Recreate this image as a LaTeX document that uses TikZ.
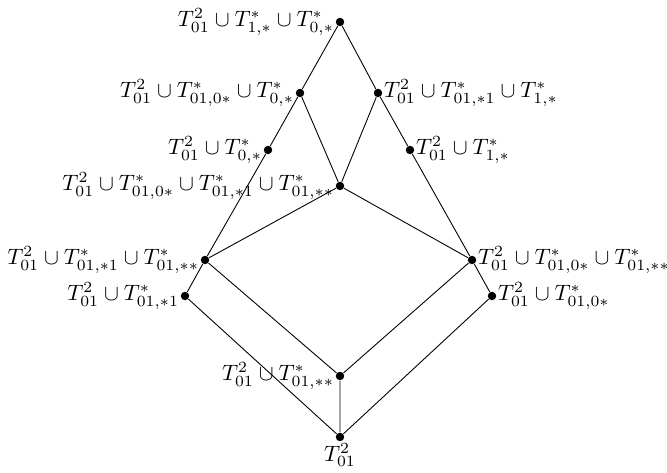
\documentclass[tikz,border=0pt]{standalone}
\usepackage{amsmath}
\usepackage{tikz}
\usetikzlibrary{positioning}

\begin{document}
\begin{tikzpicture}[scale=0.79,
    pt/.style={circle, fill=black, inner sep=0pt, minimum size=3.8pt},
    every label/.style={inner sep=0.4pt}]
            \useasboundingbox (0,0) rectangle (13.34,9.46);
            % vertices of the lattice
            \node[pt, label=left:{$T_{01}^2\cup T_{1,*}^*\cup T_{0,*}^*$}] (top) at (6.8,9.02) {};
            \node[pt, label=left:{$T_{01}^2\cup T_{01,0*}^*\cup T_{0,*}^*$}] (a) at (6.0,7.6) {};
            \node[pt, label=right:{$T_{01}^2\cup T_{01,*1}^*\cup T_{1,*}^*$}] (b) at (7.56,7.6) {};
            \node[pt, label=left:{$T_{01}^2\cup T_{0,*}^*$}] (c) at (5.36,6.46) {};
            \node[pt, label=right:{$T_{01}^2\cup T_{1,*}^*$}] (d) at (8.2,6.46) {};
            \node[pt, label=left:{$T_{01}^2\cup T_{01,0*}^*\cup T_{01,*1}^*\cup T_{01,**}^*$}] (m) at (6.8,5.74) {};
            \node[pt, label=left:{$T_{01}^2\cup T_{01,*1}^*\cup T_{01,**}^*$}] (l) at (4.1,4.26) {};
            \node[pt, label=right:{$T_{01}^2\cup T_{01,0*}^*\cup T_{01,**}^*$}] (r) at (9.44,4.26) {};
            \node[pt, label=left:{$T_{01}^2\cup T_{01,*1}^*$}] (ll) at (3.7,3.54) {};
            \node[pt, label=right:{$T_{01}^2\cup T_{01,0*}^*$}] (rr) at (9.84,3.54) {};
            \node[pt, label=left:{$T_{01}^2\cup T_{01,**}^*$}] (s) at (6.8,1.94) {};
            \node[pt, label=below:{$T_{01}^2$}] (bot) at (6.8,0.72) {};
            % edges
            \draw (top) -- (a) -- (c) -- (l) -- (ll) -- (bot);
            \draw (top) -- (b) -- (d) -- (r) -- (rr) -- (bot);
            \draw (a) -- (m) -- (b);
            \draw (l) -- (m) -- (r);
            \draw (l) -- (s) -- (r);
            \draw (s) -- (bot);
        \end{tikzpicture}
\end{document}
